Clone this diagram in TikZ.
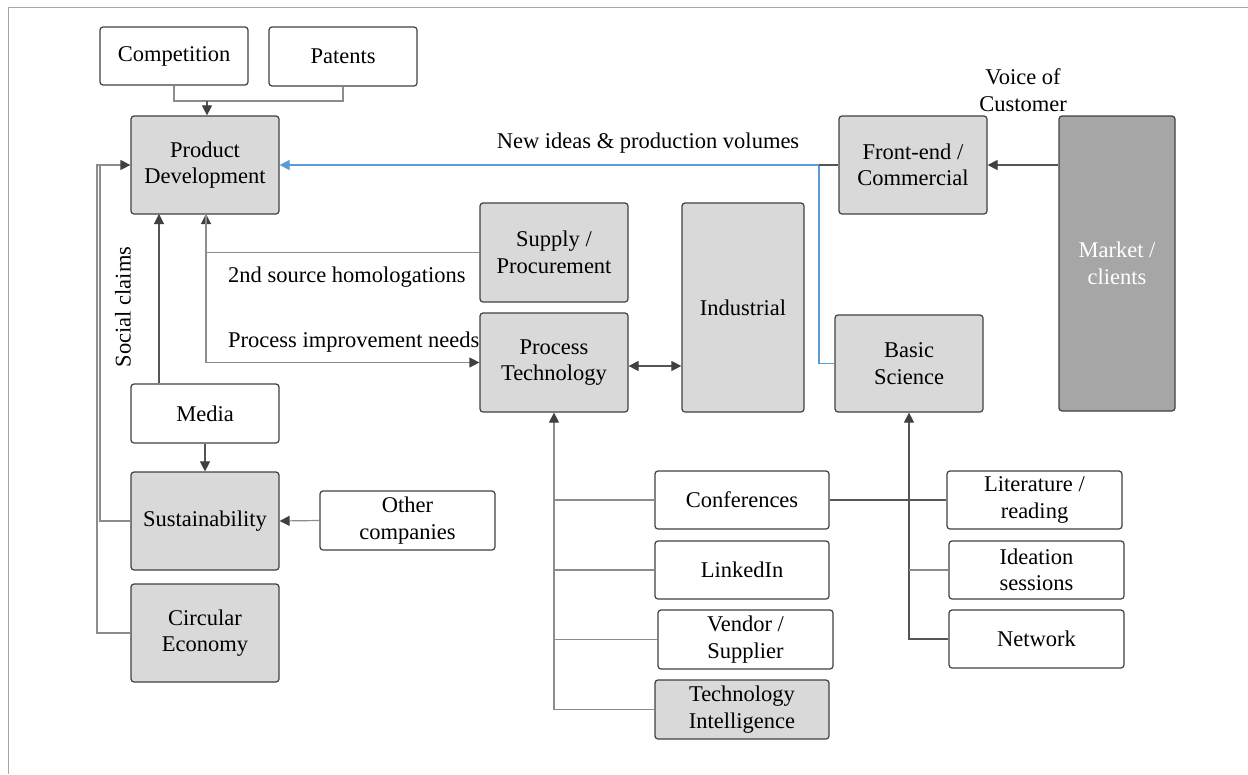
\documentclass[tikz,border=0pt]{standalone}
\usepackage{fontspec}
\setmainfont{Liberation Serif}
\usetikzlibrary{arrows.meta,calc}
\newcommand\boxfont{\fontsize{22.5}{26.5}\selectfont}
\definecolor{boxline}{HTML}{404040}
\definecolor{boxfill}{HTML}{D9D9D9}
\definecolor{marketfill}{HTML}{A6A6A6}
\definecolor{lightconn}{HTML}{8C8C8C}
\definecolor{darkconn}{HTML}{555555}
\definecolor{tipcol}{HTML}{404040}
\definecolor{bluelink}{HTML}{5B9BD5}
\definecolor{framecol}{HTML}{A6A6A6}
\tikzset{
  box/.style={draw=boxline, line width=1.2pt, rounded corners=3pt, fill=white,
    align=center, font=\boxfont, text=black, inner sep=0pt},
  graybox/.style={box, fill=boxfill},
  conn/.style={draw=lightconn, line width=1.2pt},
  dconn/.style={draw=darkconn, line width=1.1pt},
  tip/.style={-{Triangle[length=10pt,width=10pt,color=tipcol]}},
  bothtips/.style={{Triangle[length=10pt,width=10pt,color=tipcol]}-{Triangle[length=10pt,width=10pt,color=tipcol]}},
  lbl/.style={font=\boxfont, text=black, inner sep=0pt, align=center},
}
\begin{document}
\begin{tikzpicture}[x=1pt,y=-1pt]
\useasboundingbox (0,0) rectangle (1248,774);
% outer frame (top and left edges)
\draw[framecol, line width=1.3pt] (8.5,774) -- (8.5,7.5) -- (1248,7.5);

% boxes
\node[box, minimum width=148pt, minimum height=58pt] (comp) at (174,56) {Competition};
\node[box, minimum width=148pt, minimum height=59pt] (pat) at (343,56.5) {Patents};
\node[graybox, minimum width=148pt, minimum height=98pt] (pd) at (205,165) {Product\\Development};
\node[graybox, minimum width=148pt, minimum height=99pt] (supply) at (554,252.5) {Supply /\\Procurement};
\node[graybox, minimum width=148pt, minimum height=99pt] (proc) at (554,362.5) {Process\\Technology};
\node[graybox, minimum width=122pt, minimum height=209pt] (ind) at (743,307.5) {Industrial};
\node[graybox, minimum width=148pt, minimum height=98pt] (front) at (913,165) {Front-end /\\Commercial};
\node[box, fill=marketfill, text=white, minimum width=116pt, minimum height=295pt] (market) at (1117,263.5) {Market /\\clients};
\node[graybox, minimum width=148pt, minimum height=97pt] (basic) at (909,363.5) {Basic\\Science};
\node[box, minimum width=148pt, minimum height=59pt] (media) at (205,413.5) {Media};
\node[graybox, minimum width=148pt, minimum height=98pt] (sust) at (205,521) {Sustainability};
\node[box, minimum width=175pt, minimum height=59pt] (other) at (407.5,520.5) {Other\\companies};
\node[graybox, minimum width=148pt, minimum height=98pt] (circ) at (205,633) {Circular\\Economy};
\node[box, minimum width=174pt, minimum height=58pt] (conf) at (742,500) {Conferences};
\node[box, minimum width=174pt, minimum height=58pt] (linked) at (742,570) {LinkedIn};
\node[box, minimum width=175pt, minimum height=59pt] (vendor) at (745.5,639.5) {Vendor /\\Supplier};
\node[graybox, minimum width=174pt, minimum height=59pt] (ti) at (742,709.5) {Technology\\Intelligence};
\node[box, minimum width=175pt, minimum height=58pt] (lit) at (1034.5,500) {Literature /\\reading};
\node[box, minimum width=175pt, minimum height=58pt] (idea) at (1036.5,570) {Ideation\\sessions};
\node[box, minimum width=175pt, minimum height=58pt] (net) at (1036.5,639) {Network};

% free labels
\node[lbl] (voc) at (1023,90) {Voice of\\Customer};
\node[lbl] (newideas) at (648,143) {New ideas \& production volumes};
\node[lbl, anchor=west] (homol) at (228,277) {2nd source homologations};
\node[lbl, anchor=west] (pineeds) at (228,342) {Process improvement needs};
\node[lbl, rotate=90] (social) at (123,307) {Social claims};

% junction points
\coordinate (cpjoin) at (207,101);
\coordinate (lbus) at (100,165);
\coordinate (lbus2) at (97,165);
\coordinate (bluejoin) at (819,165);
\coordinate (pdlow) at (206,214);
\coordinate (pdmedia) at (159,214);

% competition and patents into product development
\draw[conn] (comp.south) |- (cpjoin) -| (pat.south);
\draw[dconn, tip] (cpjoin) -- (cpjoin |- pd.north);

% sustainability and circular economy feedback
\draw[conn] (circ.west) -| (lbus2) -- (lbus);
\draw[conn, tip] (sust.west) -| (lbus) -- (pd.west);

% media
\draw[dconn, tip] (media.north -| pdmedia) -- (pdmedia);
\draw[dconn, tip] (media.south) -- (sust.north);
\draw[conn, tip] (other.west) -- (sust.east);

% supply and process technology links
\draw[conn, tip] (supply.west) -| (pdlow);
\draw[conn, tip] (pdlow) |- (proc.west);
\draw[dconn, bothtips] ($(proc.east)+(0,3.5)$) -- ($(proc.east -| ind.west)+(0,3.5)$);

% front-end, basic science and market
\draw[bluelink, line width=1.1pt, -{Triangle[length=10pt,width=10pt,color=bluelink]}] (basic.west) -| (bluejoin) -- (pd.east);
\draw[dconn] (front.west) -- (bluejoin);
\draw[dconn, tip] (market.west |- front.east) -- (front.east);

% external sources into process technology
\draw[conn, tip] (ti.west) -| (proc.south);
\draw[conn] (conf.west) -- (conf.west -| proc.south);
\draw[conn] (linked.west) -- (linked.west -| proc.south);
\draw[conn] (vendor.west) -- (vendor.west -| proc.south);
\draw[dconn] (conf.east) -- (lit.west);

% external sources into basic science
\draw[dconn, tip] (net.west) -| (basic.south);
\draw[conn] (idea.west) -- (idea.west -| basic.south);
\end{tikzpicture}
\end{document}
